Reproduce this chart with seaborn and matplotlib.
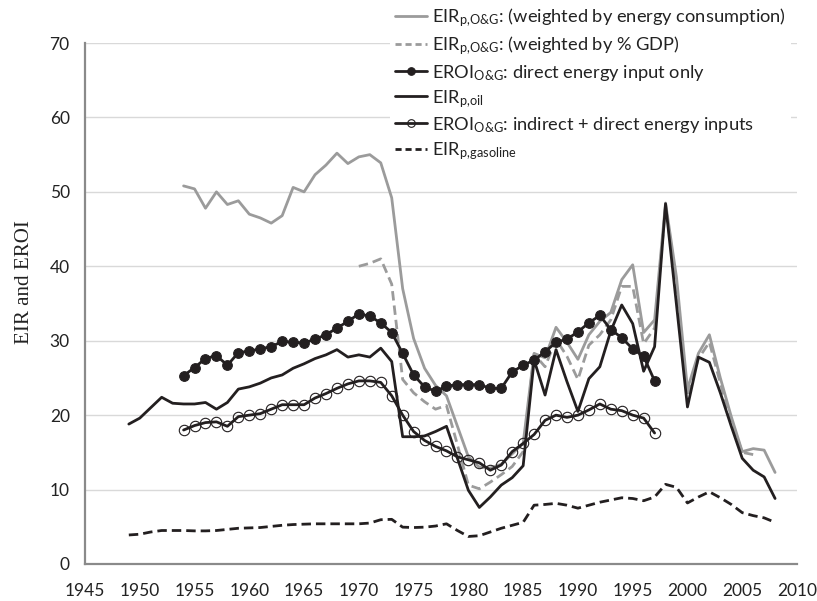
import numpy as np
import pandas as pd
import seaborn as sns
import matplotlib
matplotlib.use("Agg")
import matplotlib.pyplot as plt
from matplotlib.mathtext import MathTextParser

# years for each series
years_oil = list(range(1949, 2009))
years_cons = list(range(1954, 2009))
years_gdp = list(range(1970, 2007))
years_eroi = list(range(1954, 1998))

# EIR p,O&G weighted by energy consumption
eir_cons = [50.8, 50.4, 47.8, 50.0, 48.3, 48.8, 47.0, 46.5, 45.8, 46.8,
            50.6, 50.0, 52.3, 53.6, 55.2, 53.8, 54.7, 55.0, 53.9, 49.2,
            37.0, 30.3, 26.3, 24.0, 22.6, 18.5, 14.4, 13.0, 12.9, 13.4,
            14.8, 16.2, 28.3, 27.7, 31.8, 29.8, 27.5, 30.8, 32.6, 33.8,
            38.2, 40.2, 31.1, 32.8, 48.5, 38.5, 23.5, 28.3, 30.8, 25.0,
            19.8, 15.1, 15.5, 15.3, 12.3]

# EIR p,O&G weighted by % GDP
eir_gdp = [40.0, 40.4, 41.0, 37.6, 24.8, 23.0, 21.8, 20.8, 21.3, 16.0,
           10.6, 10.1, 11.0, 12.0, 13.1, 15.1, 28.2, 26.5, 30.2, 27.9,
           24.8, 29.4, 30.8, 32.8, 37.3, 37.3, 29.6, 31.7, 48.0, 37.5,
           22.5, 27.6, 29.8, 24.3, 19.3, 15.0, 14.7]

# EROI O&G direct energy input only
eroi_direct = [25.3, 26.4, 27.6, 28.0, 26.7, 28.4, 28.6, 28.9, 29.2, 29.9,
               29.8, 29.7, 30.2, 30.8, 31.7, 32.6, 33.6, 33.3, 32.4, 31.1,
               28.3, 25.4, 23.8, 23.2, 23.9, 24.1, 24.1, 24.1, 23.6, 23.6,
               25.8, 26.7, 27.4, 28.5, 29.8, 30.2, 31.2, 32.4, 33.4, 31.5,
               30.4, 28.9, 27.9, 24.6]

# EIR p,oil
eir_oil = [18.8, 19.6, 21.0, 22.4, 21.6, 21.5, 21.5, 21.7, 20.8, 21.7,
           23.5, 23.8, 24.3, 25.0, 25.4, 26.3, 26.9, 27.6, 28.1, 28.8,
           27.8, 28.1, 27.8, 29.0, 27.2, 17.1, 17.1, 17.2, 17.8, 18.5,
           14.2, 9.9, 7.6, 9.0, 10.6, 11.6, 13.2, 27.4, 22.7, 28.8,
           24.5, 20.5, 24.9, 26.5, 31.3, 34.8, 32.3, 25.9, 29.2, 48.4,
           34.8, 21.1, 27.8, 27.1, 23.0, 18.5, 14.2, 12.6, 11.7, 8.8]

# EROI O&G indirect + direct energy inputs
eroi_total = [18.0, 18.6, 19.0, 19.1, 18.5, 19.8, 20.0, 20.2, 20.8, 21.4,
              21.4, 21.4, 22.3, 22.9, 23.6, 24.2, 24.6, 24.6, 24.4, 22.6,
              20.0, 17.8, 16.6, 15.8, 15.2, 14.4, 14.0, 13.6, 12.6, 13.3,
              15.1, 16.2, 17.4, 19.3, 20.0, 19.7, 20.0, 20.7, 21.5, 20.8,
              20.6, 20.0, 19.6, 17.6]

# EIR p,gasoline
eir_gasoline = [3.9, 4.0, 4.3, 4.5, 4.5, 4.5, 4.45, 4.45, 4.5, 4.65,
                4.8, 4.85, 4.9, 5.05, 5.2, 5.3, 5.35, 5.4, 5.4, 5.4,
                5.4, 5.4, 5.5, 5.95, 6.0, 4.95, 4.9, 4.95, 5.1, 5.4,
                4.5, 3.7, 3.8, 4.3, 4.8, 5.2, 5.6, 7.9, 8.0, 8.15,
                7.9, 7.5, 7.9, 8.3, 8.6, 8.9, 8.8, 8.5, 9.0, 10.7,
                10.3, 8.2, 9.0, 9.7, 8.9, 8.0, 6.9, 6.5, 6.2, 5.6]

sns.set_style("white")
plt.rcParams["font.family"] = ["Lato", "DejaVu Sans"]
plt.rcParams["mathtext.fontset"] = "custom"
plt.rcParams["mathtext.rm"] = "Lato"
plt.rcParams["mathtext.it"] = "Lato:italic"
plt.rcParams["mathtext.bf"] = "Lato:bold"

_parser = MathTextParser("path")


def ok(s):
    try:
        _parser.parse(s)
        return True
    except Exception:
        return False


def sub(name, parts):
    # subscript label; mathtext puts a space after commas, so pull it back
    for comma in [",\\!", ","]:
        for amp in ["\\&", "&", "\\mathrm{\\&}"]:
            body = parts.replace(",", comma).replace("&", "}" + amp + "\\mathrm{")
            s = "%s$_{\\mathrm{%s}}$" % (name, body)
            if ok(s):
                return s
    return name + "$_{\\mathrm{" + parts.replace("&", "and") + "}}$"


o_g = "O&G"
labels = [
    sub("EIR", "p," + o_g) + ": (weighted by energy consumption)",
    sub("EIR", "p," + o_g) + ": (weighted by % GDP)",
    sub("EROI", o_g) + ": direct energy input only",
    sub("EIR", "p,oil"),
    sub("EROI", o_g) + ": indirect + direct energy inputs",
    sub("EIR", "p,gasoline"),
]

W, H = 817, 601
fig = plt.figure(figsize=(W / 100, H / 100), dpi=100)
ax = fig.add_axes([85 / W, 1 - 564 / H, 712 / W, 521 / H])

gray = "#9b9b9b"
black = "#231f20"
lw = 2.0
dash = (3.4, 1.8)

sns.lineplot(x=years_cons, y=eir_cons, ax=ax, color=gray, lw=lw, label=labels[0])
sns.lineplot(x=years_gdp, y=eir_gdp, ax=ax, color=gray, lw=lw, label=labels[1])
ax.lines[-1].set_dashes(dash)
sns.lineplot(x=years_eroi, y=eroi_direct, ax=ax, color=black, lw=lw,
             marker="o", markersize=7, mfc=black, mec=black, label=labels[2])
sns.lineplot(x=years_oil, y=eir_oil, ax=ax, color=black, lw=lw, label=labels[3])
sns.lineplot(x=years_eroi, y=eroi_total, ax=ax, color=black, lw=lw,
             marker="o", markersize=7.5, mfc="none", mec=black, mew=0.8,
             label=labels[4])
sns.lineplot(x=years_oil, y=eir_gasoline, ax=ax, color=black, lw=lw,
             label=labels[5])
ax.lines[-1].set_dashes(dash)

ax.set_xlim(1945, 2010)
ax.set_ylim(0, 70)
ax.set_xticks(np.arange(1945, 2011, 5))
ax.set_yticks(np.arange(0, 71, 10))
ax.yaxis.grid(True, color="#d9d9d9", lw=1)
ax.xaxis.grid(False)
ax.set_axisbelow(True)
for s in ["top", "right"]:
    ax.spines[s].set_visible(False)
for s in ["left", "bottom"]:
    ax.spines[s].set_color("#8a8a8a")
    ax.spines[s].set_linewidth(1.6)
ax.tick_params(axis="both", direction="out", length=4, width=1,
               color="#8a8a8a", labelsize=12.5, labelcolor="#222222")
ax.tick_params(axis="x", pad=10)
ax.tick_params(axis="y", pad=7)
ax.set_xlabel("")
ax.set_ylabel("")

ylab = fig.text(25 / W, 1 - 282 / H, "EIR and EROI", rotation=90,
                ha="center", va="center", family="Liberation Serif",
                fontsize=15, color="#222222")


def make_legend(fs, spacing):
    leg = ax.legend(loc="upper left", bbox_to_anchor=(0.47, 1.0),
                    bbox_transform=fig.transFigure, fontsize=fs,
                    frameon=True, facecolor="white", edgecolor="none",
                    framealpha=1, fancybox=False, borderpad=0.3,
                    handlelength=1.75, handletextpad=0.25,
                    labelspacing=spacing, borderaxespad=0,
                    labelcolor="#222222")
    leg.get_lines()[1].set_dashes((2.2, 1.4))
    leg.get_lines()[5].set_dashes((2.2, 1.4))
    leg.get_lines()[2].set_markersize(5.5)
    leg.get_lines()[4].set_markersize(5.5)
    return leg


# size the legend to the reference: longest label 353 px wide,
# text starting at x=432, rows 26.5 px apart starting at y=18
fs, spacing = 13.0, 0.3
leg = make_legend(fs, spacing)
r = fig.canvas.get_renderer()
t0 = leg.get_texts()[0].get_window_extent(r)
fs = fs * 353 / t0.width
leg = make_legend(fs, spacing)
fig.canvas.draw()
ext = [t.get_window_extent(r) for t in leg.get_texts()]
step = (ext[0].y0 - ext[5].y0) / 5
spacing = spacing + (26.5 - step) / (fs * 100 / 72)
leg = make_legend(fs, spacing)
fig.canvas.draw()
ext = [t.get_window_extent(r) for t in leg.get_texts()]
cy = (H - 18) - (ext[0].y0 + ext[0].y1) / 2
dx = 432 - ext[0].x0
leg.set_bbox_to_anchor((0.47 + dx / W, 1.0 + cy / H), transform=fig.transFigure)

# y label length about 124 px
fig.canvas.draw()
e = ylab.get_window_extent(r)
ylab.set_fontsize(15 * 124 / e.height)

fig.savefig("out.png", dpi=100)
